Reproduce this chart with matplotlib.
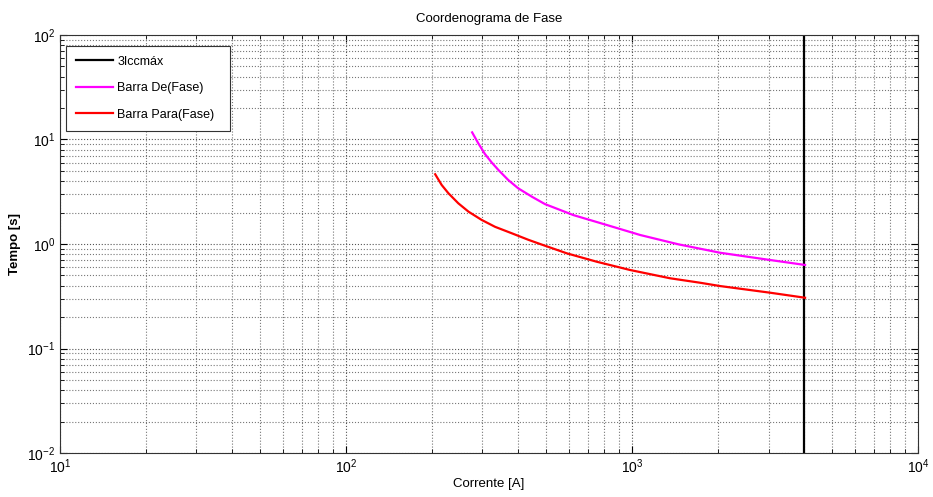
import numpy as np
import matplotlib.pyplot as plt
from matplotlib.ticker import LogLocator, NullFormatter

plt.rcParams['font.family'] = ['Liberation Sans', 'DejaVu Sans']
plt.rcParams['axes.unicode_minus'] = False

# Curva da barra "De"
i_de = [276, 290, 306, 323, 341, 369, 400, 446, 496, 624, 816, 1067, 1452, 2031, 3038, 4026]
t_de = [11.7, 9.20, 7.26, 6.03, 5.11, 4.10, 3.41, 2.84, 2.41, 1.89, 1.52, 1.22, 0.993, 0.825, 0.703, 0.63]

# Curva da barra "Para"
i_para = [205, 216, 228, 247, 268, 298, 332, 380, 434, 477, 591, 752, 984, 1358, 1729, 2031, 3038, 4026]
t_para = [4.65, 3.67, 3.06, 2.45, 2.04, 1.70, 1.46, 1.266, 1.097, 1.0, 0.815, 0.677, 0.564, 0.470, 0.426, 0.396, 0.342, 0.306]

# Corrente de curto trifasica maxima
icc_max = 4000
t_range = [1e-2, 1e2]

fig = plt.figure(figsize=(9.33, 4.97), dpi=100)
ax = fig.add_axes([0.0643, 0.0885, 0.9197, 0.8411])

ax.plot([icc_max, icc_max], t_range, color='black', lw=1.6, label='3Iccmáx')
ax.plot(i_de, t_de, color=(1, 0, 1), lw=1.6, label='Barra De(Fase)')
ax.plot(i_para, t_para, color=(1, 0, 0), lw=1.6, label='Barra Para(Fase)')

ax.set_xscale('log')
ax.set_yscale('log')
ax.set_xlim(10, 1e4)
ax.set_ylim(1e-2, 1e2)

ax.xaxis.set_major_locator(LogLocator(base=10, numticks=10))
ax.yaxis.set_major_locator(LogLocator(base=10, numticks=10))
ax.xaxis.set_minor_locator(LogLocator(base=10, subs=np.arange(2, 10), numticks=20))
ax.yaxis.set_minor_locator(LogLocator(base=10, subs=np.arange(2, 10), numticks=20))
ax.xaxis.set_minor_formatter(NullFormatter())
ax.yaxis.set_minor_formatter(NullFormatter())

ax.grid(True, which='major', linestyle=':', color='#555555', lw=0.8)
ax.grid(True, which='minor', linestyle=':', color='#777777', lw=0.8)
ax.tick_params(which='both', direction='in', top=True, right=True, labelsize=10)
ax.tick_params(which='major', length=5)
ax.tick_params(which='minor', length=3)
for s in ax.spines.values():
    s.set_color('#333333')

ax.set_title('Coordenograma de Fase', fontsize=9.5, pad=9)
ax.set_xlabel('Corrente [A]', fontsize=9.5, labelpad=1)
ax.set_ylabel('Tempo [s]', fontsize=9.5, fontweight='bold', labelpad=4)

leg = ax.legend(loc='upper left', fontsize=9, fancybox=False, framealpha=1,
                edgecolor='#333333', handlelength=3.0, handletextpad=0.3,
                labelspacing=1.15, borderpad=0.8, borderaxespad=0,
                mode='expand', bbox_to_anchor=(0.007, 0.774, 0.191, 0.2))
leg.get_frame().set_linewidth(0.8)

fig.savefig('out.png', dpi=100)
